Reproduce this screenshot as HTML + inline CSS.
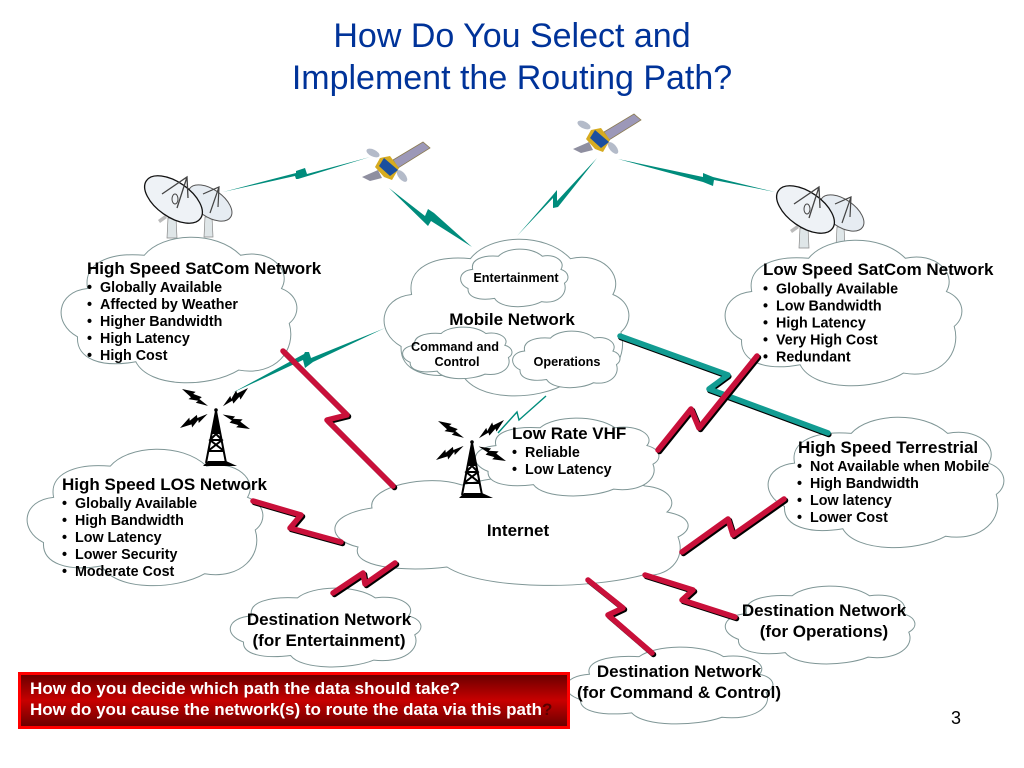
<!DOCTYPE html>
<html><head><meta charset="utf-8"><style>
html,body{margin:0;padding:0;background:#fff}
svg{display:block;font-family:"Liberation Sans",sans-serif}
.c{fill:#fff;stroke:#7f9696;stroke-width:1}
.h{font-weight:bold;font-size:17px}
.b{font-weight:bold;font-size:14.3px}
.m{text-anchor:middle}
.r{fill:none;stroke:#c9103a;stroke-width:5.5;stroke-linejoin:round;stroke-linecap:round}
.s{fill:none;stroke:#000;stroke-width:5.5;stroke-linejoin:round;stroke-linecap:round}
.t{fill:#008c7c}
</style></head><body>
<svg width="1024" height="768" viewBox="0 0 1024 768" xmlns="http://www.w3.org/2000/svg">
<defs>
<path id="cl" vector-effect="non-scaling-stroke" d="M10.9,35.8C8.8,18.5 20,10.4 35,12.7C42.7,-3 65.3,-5 76,12.7C88.7,8 97.9,23 93.4,35.8C100.8,40.4 102,53 96.7,60C100,78.5 90.8,97 75.2,92.4C62.5,105 37,105 31.4,86.6C17,91 6,85 6.6,69.3C-4,60 -2.5,38 10.9,35.8Z"/>
<linearGradient id="g" x1="0" y1="0" x2="0" y2="1"><stop offset="0" stop-color="#660000"/><stop offset=".5" stop-color="#c80000"/><stop offset="1" stop-color="#660000"/></linearGradient>
<polygon id="bo" points="0,0 13,-5 12,-2 21,-4 20,-1 31,0 19,4 20,1 11,5 12,2"/>
<g id="tower">
<path d="M216,411L206,463M216,411L226,463M212,430L220,430M210,440L222,440M208,451L224,451M212,430L222,440L208,451M220,430L210,440L224,451" fill="none" stroke="#000" stroke-width="2"/>
<path d="M216,412L211,434L221,434Z" fill="#000"/>
<circle cx="216" cy="410" r="1.8" fill="#000"/>
<path d="M203,466L237,466L226,461L208,461Z" fill="#000"/>
<use href="#bo" transform="translate(182,389) rotate(33)"/>
<use href="#bo" transform="translate(248,388) rotate(144)"/>
<use href="#bo" transform="translate(180,428) rotate(-27)"/>
<use href="#bo" transform="translate(250,429) rotate(208)"/>
</g>
<g id="dishes">
<path d="M205,217h7l1,20h-9z" fill="#dfe6e8" stroke="#888" stroke-width=".7"/>
<g transform="rotate(35 210 203)"><ellipse cx="210" cy="203" rx="25" ry="13.5" fill="#e6ecf2" stroke="#555" stroke-width="1"/></g>
<path d="M203,194L219,187L218,207M210,213L219,187" fill="none" stroke="#444" stroke-width="1.2"/>
<path d="M168,218h8l1,20h-10z" fill="#dfe6e8" stroke="#888" stroke-width=".7"/>
<path d="M158,220l7,-5 2,3 -7,5z" fill="#bbb"/>
<g transform="rotate(35 173.5 199.5)"><ellipse cx="173.5" cy="199.5" rx="33" ry="17.5" fill="#eef2f6" stroke="#111" stroke-width="1.3"/></g>
<path d="M162,194L187,177L188,198M177,208L187,177" fill="none" stroke="#444" stroke-width="1.3"/>
<ellipse cx="175" cy="199" rx="3" ry="5" fill="none" stroke="#444"/>
</g>
<g id="sat">
<polygon points="393,160 423,142 430,148 398,168" fill="#9c98b8" stroke="#8a7a50" stroke-width=".8"/>
<polygon points="362,177 378,170 382,178 370,181" fill="#8f8fa0"/>
<ellipse cx="373" cy="153" rx="7" ry="3.5" transform="rotate(25 373 153)" fill="#b4bbc9"/>
<ellipse cx="402" cy="176" rx="7" ry="3.5" transform="rotate(50 402 176)" fill="#b4bbc9"/>
<polygon points="380,158 390,156 399,168 392,180 384,177 375,167" fill="#d6ab20"/>
<polygon points="384,158 398,170 390,176 379,166" fill="#1a4f9f"/>
</g>
</defs>

<text class="m" x="512" y="47" font-size="34" fill="#003399">How Do You Select and</text>
<text class="m" x="512" y="89" font-size="34" fill="#003399">Implement the Routing Path?</text>

<!-- thin teal links -->
<polygon class="t" points="223,192 296,173 296,171 305,168 307,174 370,157 298,179 296,179 295,176"/>
<polygon class="t" points="389,188 425,216 428,209 434,213 472,247 431,221 428,226"/>
<polygon class="t" points="517,236 552,196 557,190 557,201 597,158 558,207 553,208 553,198"/>
<polygon class="t" points="618,159 703,177 703,173 713,177 775,192 714,180 713,186 703,182"/>
<polygon class="t" points="232,393 304,354 305,352 309,352 311,358 385,328 313,362 305,368 303,360"/>
<polyline points="546,396 519,420 517,412 498,433" fill="none" stroke="#008c7c" stroke-width="1.4"/>

<use href="#dishes"/>
<use href="#dishes" x="632" y="10"/>
<use href="#sat"/>
<use href="#sat" x="211" y="-28"/>

<!-- clouds -->
<use href="#cl" class="c" transform="translate(62,237) scale(2.35,1.44)"/>
<use href="#cl" class="c" transform="translate(726,240) scale(2.36,1.44)"/>
<use href="#cl" class="c" transform="translate(385,239) scale(2.44,1.55)"/>
<use href="#cl" class="c" transform="translate(461,249) scale(1.07,.57)"/>
<use href="#cl" class="c" transform="translate(403,327) scale(1.09,.51)"/>
<use href="#cl" class="c" transform="translate(513,331) scale(1.07,.56)"/>
<use href="#cl" class="c" transform="translate(769,417) scale(2.35,1.29)"/>
<use href="#cl" class="c" transform="translate(28,449) scale(2.35,1.35)"/>
<path class="c" d="M372,508C367,487 427,473 462,485C520,470 600,470 645,486C670,488 678,503 667,512C693,517 693,530 678,537C687,560 667,578 643,575C587,590 483,590 447,567C407,572 350,568 358,547C327,540 323,515 372,508Z"/>
<use href="#cl" class="c" transform="translate(476,418) scale(1.83,.77)"/>
<use href="#cl" class="c" transform="translate(231,588) scale(1.9,.78)"/>
<use href="#cl" class="c" transform="translate(726,586) scale(1.89,.77)"/>
<use href="#cl" class="c" transform="translate(567,647) scale(2.06,.76)"/>

<use href="#tower"/>
<use href="#tower" x="256" y="32"/>

<!-- thick links -->
<polyline class="s" transform="translate(.8,1.5)" points="620,336 728,375 709,389 828,433"/>
<polyline class="r" points="620,336 728,375 709,389 828,433" style="stroke:#129c92"/>
<g transform="translate(1.5,1.5)">
<polyline class="s" points="283,351 347,415 327,420 393,486"/>
<polyline class="s" points="253,501 301,515 290,528 341,542"/>
<polyline class="s" points="658,450 691,409 699,428 757,356"/>
<polyline class="s" points="682,552 728,519 733,535 784,499"/>
<polyline class="s" points="333,593 363,573 365,584 395,563"/>
<polyline class="s" points="645,575 693,590 682,600 735,617"/>
<polyline class="s" points="588,580 623,608 608,615 652,653"/>
</g>
<polyline class="r" points="283,351 347,415 327,420 393,486"/>
<polyline class="r" points="253,501 301,515 290,528 341,542"/>
<polyline class="r" points="658,450 691,409 699,428 757,356"/>
<polyline class="r" points="682,552 728,519 733,535 784,499"/>
<polyline class="r" points="333,593 363,573 365,584 395,563"/>
<polyline class="r" points="645,575 693,590 682,600 735,617"/>
<polyline class="r" points="588,580 623,608 608,615 652,653"/>

<!-- labels -->
<text class="h" x="87" y="274">High Speed SatCom Network</text>
<g class="b"><text x="87" y="292">•</text><text x="100" y="292">Globally Available</text>
<text x="87" y="309">•</text><text x="100" y="309">Affected by Weather</text>
<text x="87" y="326">•</text><text x="100" y="326">Higher Bandwidth</text>
<text x="87" y="343">•</text><text x="100" y="343">High Latency</text>
<text x="87" y="360">•</text><text x="100" y="360">High Cost</text></g>

<text class="h" x="763" y="275">Low Speed SatCom Network</text>
<g class="b"><text x="763" y="293.500">•</text><text x="776" y="293.500">Globally Available</text>
<text x="763" y="310.500">•</text><text x="776" y="310.500">Low Bandwidth</text>
<text x="763" y="327.500">•</text><text x="776" y="327.500">High Latency</text>
<text x="763" y="344.500">•</text><text x="776" y="344.500">Very High Cost</text>
<text x="763" y="361.500">•</text><text x="776" y="361.500">Redundant</text></g>

<text class="m" x="516" y="282" font-size="12.700" font-weight="bold">Entertainment</text>
<text class="m" x="512" y="325" font-size="17" font-weight="bold">Mobile Network</text>
<text class="m" x="455" y="351" font-size="12.700" font-weight="bold">Command and</text>
<text class="m" x="457" y="366" font-size="12.700" font-weight="bold">Control</text>
<text class="m" x="567" y="366" font-size="12.700" font-weight="bold">Operations</text>

<text class="h" x="512" y="439">Low Rate VHF</text>
<g class="b"><text x="512" y="457">•</text><text x="525" y="457">Reliable</text>
<text x="512" y="474">•</text><text x="525" y="474">Low Latency</text></g>

<text class="h" x="798" y="453">High Speed Terrestrial</text>
<g class="b"><text x="797" y="471">•</text><text x="810" y="471">Not Available when Mobile</text>
<text x="797" y="488">•</text><text x="810" y="488">High Bandwidth</text>
<text x="797" y="505">•</text><text x="810" y="505">Low latency</text>
<text x="797" y="522">•</text><text x="810" y="522">Lower Cost</text></g>

<text class="h" x="62" y="490">High Speed LOS Network</text>
<g class="b"><text x="62" y="508">•</text><text x="75" y="508">Globally Available</text>
<text x="62" y="525">•</text><text x="75" y="525">High Bandwidth</text>
<text x="62" y="542">•</text><text x="75" y="542">Low Latency</text>
<text x="62" y="559">•</text><text x="75" y="559">Lower Security</text>
<text x="62" y="576">•</text><text x="75" y="576">Moderate Cost</text></g>

<text class="m h" x="518" y="536">Internet</text>
<text class="m h" x="329" y="625">Destination Network</text>
<text class="m h" x="329" y="646">(for Entertainment)</text>
<text class="m h" x="824" y="616">Destination Network</text>
<text class="m h" x="824" y="637">(for Operations)</text>
<text class="m h" x="679" y="677">Destination Network</text>
<text class="m h" x="679" y="698">(for Command &amp; Control)</text>

<rect x="19.500" y="673.500" width="549" height="54" fill="url(#g)" stroke="#ff0000" stroke-width="3"/>
<text x="30" y="694" font-size="17" font-weight="bold" fill="#fff" textLength="430">How do you decide which path the data should take?</text>
<text x="30" y="715" font-size="17" font-weight="bold" fill="#fff">How do you cause the network(s) to route the data via this path<tspan fill="#5a0000">?</tspan></text>
<text x="951" y="724" font-size="18">3</text>
</svg>
</body></html>
